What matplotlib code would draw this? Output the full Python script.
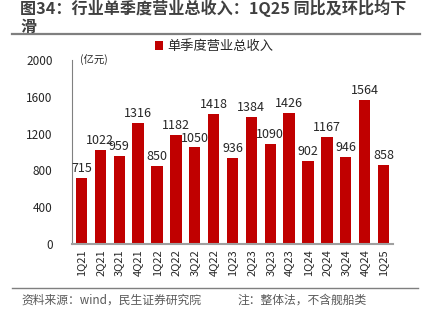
import numpy as np
import matplotlib.pyplot as plt
from matplotlib.lines import Line2D

plt.rcParams['font.family'] = ['Noto Sans CJK SC', 'DejaVu Sans']

quarters = ['1Q21', '2Q21', '3Q21', '4Q21', '1Q22', '2Q22', '3Q22', '4Q22',
            '1Q23', '2Q23', '3Q23', '4Q23', '1Q24', '2Q24', '3Q24', '4Q24', '1Q25']
revenue = [715, 1022, 959, 1316, 850, 1182, 1050, 1418,
           936, 1384, 1090, 1426, 902, 1167, 946, 1564, 858]
yticks = [0, 400, 800, 1200, 1600, 2000]

title = '图34：行业单季度营业总收入：1Q25 同比及环比均下\n滑'
source = '资料来源：wind，民生证券研究院'
note = '注：整体法，不含舰船类'

W, H = 426, 324
fig = plt.figure(figsize=(W / 100, H / 100), dpi=100)
ax = fig.add_axes([72 / W, 1 - 244 / H, (393 - 72) / W, (244 - 60) / H])

x = np.arange(len(quarters))
bars = ax.bar(x, revenue, width=0.6, color='#C00000', label='单季度营业总收入')

# value labels above bars
for xi, v in zip(x, revenue):
    ax.annotate(str(v), (xi, v), xytext=(0, 2), textcoords='offset points',
                ha='center', va='bottom', fontsize=9, color='#262626')

ax.set_xlim(-0.5, len(quarters) - 0.5)
ax.set_ylim(0, 2000)
ax.set_yticks(yticks)
ax.set_xticks(x)
ax.set_xticklabels(quarters, rotation=90, fontsize=8, color='#262626')
ax.tick_params(axis='y', length=0, labelsize=8.5, labelcolor='#262626', pad=14)
ax.tick_params(axis='x', length=0, pad=4)

for s in ['top', 'right']:
    ax.spines[s].set_visible(False)
ax.spines['left'].set_color('#808080')
ax.spines['left'].set_linewidth(0.8)
ax.spines['bottom'].set_color('#a0a0a0')
ax.spines['bottom'].set_linewidth(1.5)

ax.text(8 / (393 - 72), 1.0, '(亿元)', transform=ax.transAxes,
        fontsize=7.5, color='#262626', va='center', ha='left')

leg = ax.legend(loc='upper left', bbox_to_anchor=(155 / W, 1 - 40 / H),
                bbox_transform=fig.transFigure, frameon=False, fontsize=9.5,
                handlelength=0.6, handleheight=0.6, handletextpad=0.3,
                borderpad=0, borderaxespad=0)
for t in leg.get_texts():
    t.set_color('#262626')

# title and footer
fig.text(20 / W, 1 - 0 / H, title, fontsize=11.6, fontweight='bold',
         color='#404040', va='top', ha='left', linespacing=1.1)
fig.add_artist(Line2D([12 / W, 420 / W], [1 - 34 / H, 1 - 34 / H],
                      color='#7f7f7f', lw=1.6, transform=fig.transFigure))
fig.add_artist(Line2D([12 / W, 418 / W], [1 - 288 / H, 1 - 288 / H],
                      color='#7f7f7f', lw=1.0, transform=fig.transFigure))
fig.text(21 / W, 1 - 300 / H, source, fontsize=8.5, color='#595959',
         va='center', ha='left')
fig.text(237 / W, 1 - 300 / H, note, fontsize=8.5, color='#595959',
         va='center', ha='left')

fig.savefig('out.png', dpi=100)
